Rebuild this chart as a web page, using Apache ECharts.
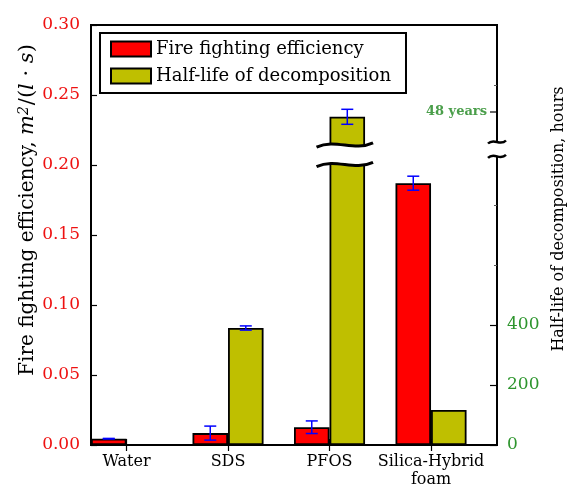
<!DOCTYPE html>
<html><head><meta charset="utf-8">
<script src="https://cdn.jsdelivr.net/npm/echarts@6/dist/echarts.min.js"></script>
<style>html,body{margin:0;padding:0;background:#fff}#c{width:574px;height:486px}</style>
</head><body><div id="c"></div>
<script>
// ---- data ----
const categories = ['Water', 'SDS', 'PFOS', 'Silica-Hybrid\nfoam'];
const efficiency = [0.0045, 0.0085, 0.0127, 0.187];
const efficiencyErr = [0.0002, 0.005, 0.0045, 0.005];
const halfLife = [1, 390, 1094, 117];          // hours (PFOS drawn on broken part of axis)
const halfLifeErr = [0, 7, 25, 0];
const effTicks = { min: 0, max: 0.30, interval: 0.05 };
const hoursTicks = { min: 0, max: 1400, interval: 200 };
const hoursLabels = [0, 200, 400];
const hoursMinorTicks = [600, 800, 1200];
const breakLabel = '48 years';
const breakLabelValue = 1110;
const barBreak = [935, 1000];
const spineBreak = [962, 1010];

// ---- layout / style ----
const FONT = 'DejaVu Serif';
const frameL = 91, frameR = 497, frameT = 25, frameB = 445;
const band = (frameR - frameL) / 4;
const barW = band * 0.35;
const RED = '#ff0000', OLIVE = '#bfbf00', BLUE = '#0000ff';

function errRender(dx) {
  return function (params, api) {
    const i = api.value(0), v = api.value(1), e = api.value(2);
    const hi = api.coord([i, v + e]);
    const lo = api.coord([i, v - e]);
    const x = hi[0] + dx, c = 6;
    const st = { stroke: BLUE, lineWidth: 1.5 };
    return { type: 'group', children: [
      { type: 'line', shape: { x1: x, y1: hi[1], x2: x, y2: lo[1] }, style: st },
      { type: 'line', shape: { x1: x - c, y1: hi[1], x2: x + c, y2: hi[1] }, style: st },
      { type: 'line', shape: { x1: x - c, y1: lo[1], x2: x + c, y2: lo[1] }, style: st }
    ]};
  };
}

const chart = echarts.init(document.getElementById('c'), null, { renderer: 'canvas' });
const option = {
  animation: false,
  backgroundColor: '#fff',
  grid: [
    { left: frameL - 0.15 * band, width: 4 * band, top: frameT, height: frameB - frameT,
      outerBoundsMode: 'none', containLabel: false },
    { left: frameL, width: frameR - frameL, top: frameT, height: frameB - frameT,
      outerBoundsMode: 'none', containLabel: false,
      show: true, borderColor: '#000', borderWidth: 2, backgroundColor: 'transparent', z: 0 }
  ],
  legend: {
    data: ['Fire fighting efficiency', 'Half-life of decomposition'],
    orient: 'vertical', left: 100, top: 33, icon: 'rect',
    padding: [6, 15, 7, 10],
    itemWidth: 40, itemHeight: 15, itemGap: 7, itemTextGap: 16,
    backgroundColor: '#fff', borderColor: '#000', borderWidth: 2, borderRadius: 0,
    textStyle: { fontFamily: FONT, fontSize: 18, color: '#000', lineHeight: 20 },
    z: 20
  },
  xAxis: [
    { gridIndex: 0, type: 'category', data: categories, position: 'bottom',
      axisLine: { show: false },
      axisTick: { show: true, inside: true, alignWithLabel: true, interval: 0, length: 6, lineStyle: { color: '#000', width: 1.2 } },
      axisLabel: { interval: 0, color: '#000', fontFamily: FONT, fontSize: 16, margin: 8, lineHeight: 18 },
      splitLine: { show: false } },
    { gridIndex: 0, type: 'category', data: categories, position: 'top',
      axisLine: { show: false },
      axisTick: { show: true, inside: true, alignWithLabel: true, interval: 0, length: 6, lineStyle: { color: '#000', width: 1.2 } },
      axisLabel: { show: false }, splitLine: { show: false } },
    { gridIndex: 1, type: 'value', min: 0, max: 1, show: false }
  ],
  yAxis: [
    { gridIndex: 0, type: 'value', min: effTicks.min, max: effTicks.max, show: false },
    { gridIndex: 0, type: 'value', position: 'right', min: hoursTicks.min, max: hoursTicks.max, show: false },
    { gridIndex: 1, type: 'value', position: 'left', min: effTicks.min, max: effTicks.max, interval: effTicks.interval,
      axisLine: { show: false },
      axisTick: { show: true, inside: true, length: 6, lineStyle: { color: '#000', width: 1.2 } },
      axisLabel: { color: '#ee1111', fontFamily: FONT, fontSize: 17, margin: 11, formatter: v => v.toFixed(2) },
      splitLine: { show: false },
      name: 'Fire fighting efficiency, {i|m}{s|2}{m|/(}{i|l}{m| · }{i|s}{m|)}',
      nameLocation: 'middle', nameGap: 52, nameMoveOverlap: false,
      nameTextStyle: { fontFamily: FONT, fontSize: 20, color: '#000', padding: [0, 0, 0, 50],
        rich: { i: { fontFamily: FONT, fontSize: 21, fontStyle: 'italic', color: '#000' },
                m: { fontFamily: FONT, fontSize: 21, color: '#000' },
                s: { fontFamily: FONT, fontSize: 14, fontStyle: 'italic', color: '#000', verticalAlign: 'top', padding: [0, 1, 8, 0] } } } },
    { gridIndex: 1, type: 'value', position: 'right', min: hoursTicks.min, max: hoursTicks.max, interval: hoursTicks.interval,
      axisLine: { show: false },
      axisTick: { show: true, inside: true, length: 7, customValues: hoursLabels, lineStyle: { color: '#000', width: 1.2 } },
      axisLabel: { color: '#2e952e', fontFamily: FONT, fontSize: 17, margin: 10, customValues: hoursLabels,
        formatter: v => hoursLabels.indexOf(v) >= 0 ? String(v) : '' },
      splitLine: { show: false },
      name: 'Half-life of decomposition, hours',
      nameLocation: 'middle', nameGap: 50,
      nameTextStyle: { fontFamily: FONT, fontSize: 16, color: '#000', padding: [0, 0, 0, 32] } },
    { gridIndex: 1, type: 'value', position: 'right', min: hoursTicks.min, max: hoursTicks.max, interval: hoursTicks.interval,
      axisLine: { show: false },
      axisTick: { show: true, inside: true, length: 3, customValues: hoursMinorTicks, lineStyle: { color: '#555', width: 1 } },
      axisLabel: { show: false }, splitLine: { show: false } }
  ],
  series: [
    { type: 'bar', name: 'Fire fighting efficiency', xAxisIndex: 0, yAxisIndex: 0, data: efficiency,
      barWidth: barW, barGap: '0%', z: 2,
      itemStyle: { color: RED, borderColor: '#000', borderWidth: 1.8 } },
    { type: 'bar', name: 'Half-life of decomposition', xAxisIndex: 0, yAxisIndex: 1, data: halfLife,
      barWidth: barW, barGap: '0%', z: 2,
      itemStyle: { color: OLIVE, borderColor: '#000', borderWidth: 1.8 } },
    { type: 'custom', xAxisIndex: 0, yAxisIndex: 0, silent: true, z: 6,
      dimensions: ['x', 'y', 'e'], encode: { x: 0, y: 1 },
      data: efficiency.map((v, i) => [i, v, efficiencyErr[i]]),
      renderItem: errRender(-barW / 2) },
    { type: 'custom', xAxisIndex: 0, yAxisIndex: 1, silent: true, z: 6,
      dimensions: ['x', 'y', 'e'], encode: { x: 0, y: 1 },
      data: halfLife.map((v, i) => [i, v, halfLifeErr[i]]).filter(d => d[2] > 0),
      renderItem: errRender(barW / 2) }
  ]
};
chart.setOption(option);

// ---- axis-break decorations, positioned through the chart's own scales ----
const pfos = 2;
const cx = chart.convertToPixel({ xAxisIndex: 0 }, categories[pfos]);
const yUp = chart.convertToPixel({ yAxisIndex: 1 }, barBreak[1]);
const yLo = chart.convertToPixel({ yAxisIndex: 1 }, barBreak[0]);
const spineX = chart.convertToPixel({ xAxisIndex: 2 }, 1);
const sUp = chart.convertToPixel({ yAxisIndex: 3 }, spineBreak[1]);
const sLo = chart.convertToPixel({ yAxisIndex: 3 }, spineBreak[0]);
const yLab = chart.convertToPixel({ yAxisIndex: 3 }, breakLabelValue);

function wave(x0, x1, y, amp, lw) {
  const w = x1 - x0;
  return { type: 'bezierCurve', z: 60,
    shape: { x1: x0, y1: y + amp * 0.3, cpx1: x0 + w * 0.35, cpy1: y - amp, cpx2: x0 + w * 0.65, cpy2: y + amp, x2: x1, y2: y - amp * 0.3 },
    style: { stroke: '#000', lineWidth: lw, fill: null } };
}
chart.setOption({ graphic: [
  { type: 'rect', z: 55, shape: { x: cx - 2, y: yUp, width: barW + 4, height: yLo - yUp }, style: { fill: '#fff' } },
  wave(cx - 13, cx + barW + 8, yUp, 7, 3),
  wave(cx - 13, cx + barW + 8, yLo, 7, 3),
  { type: 'rect', z: 55, shape: { x: spineX - 3, y: sUp, width: 6, height: sLo - sUp }, style: { fill: '#fff' } },
  wave(spineX - 9, spineX + 9, sUp, 5, 2.5),
  wave(spineX - 9, spineX + 9, sLo, 5, 2.5),
  { type: 'line', z: 60, shape: { x1: spineX - 7, y1: yLab, x2: spineX, y2: yLab }, style: { stroke: '#000', lineWidth: 1.2 } },
  { type: 'text', z: 60, style: { text: breakLabel, x: spineX - 10, y: yLab, align: 'right', verticalAlign: 'middle',
      font: 'bold 13px "' + FONT + '"', fill: '#4a9e4a' } }
]});
</script></body></html>
